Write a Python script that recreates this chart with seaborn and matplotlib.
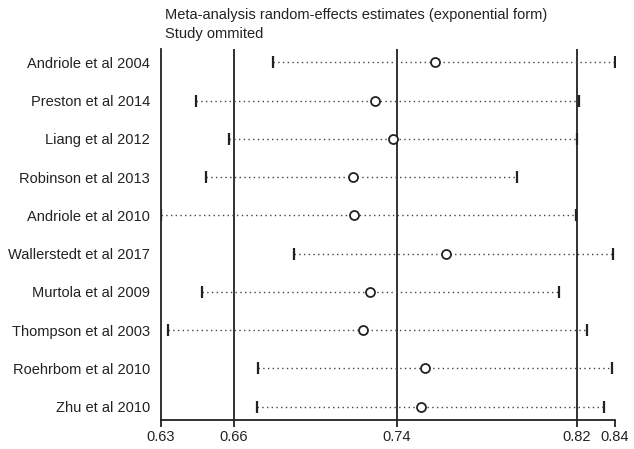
import matplotlib
matplotlib.use("Agg")
import matplotlib.pyplot as plt
import seaborn as sns
import pandas as pd

# Leave-one-out random-effects estimates (exponential form)
studies = [
    "Andriole et al 2004", "Preston et al 2014", "Liang et al 2012",
    "Robinson et al 2013", "Andriole et al 2010", "Wallerstedt et al 2017",
    "Murtola et al 2009", "Thompson et al 2003", "Roehrbom et al 2010",
    "Zhu et al 2010",
]
estimate = [0.7572, 0.7295, 0.7378, 0.7192, 0.7198, 0.7622, 0.7272, 0.7238, 0.7526, 0.7508]
lower_ci = [0.6823, 0.6466, 0.6620, 0.6512, 0.6305, 0.6920, 0.6493, 0.6339, 0.6755, 0.6749]
upper_ci = [0.8405, 0.8238, 0.8231, 0.7952, 0.8226, 0.8397, 0.8147, 0.8274, 0.8393, 0.8355]

# Pooled estimate and its confidence limits
pooled_lower = 0.6643
pooled_est = 0.7395
pooled_upper = 0.8228

axis_min = min(lower_ci)
axis_max = max(upper_ci)

df = pd.DataFrame({
    "study": studies,
    "pos": range(len(studies)),
    "est": estimate,
    "lo": lower_ci,
    "hi": upper_ci,
})

sns.set_theme(style="white")
plt.rcParams["font.family"] = ["Liberation Sans", "DejaVu Sans"]

W, H = 634, 449
fig = plt.figure(figsize=(W / 100, H / 100), dpi=100)
ax = fig.add_axes([161 / W, (H - 420) / H, (615 - 161) / W, (420 - 49) / H])

ink = "#222222"
fs = 10.5

# pooled reference lines
for v in (pooled_lower, pooled_est, pooled_upper):
    ax.axvline(v, color=ink, lw=1.3, zorder=1)

# dotted confidence intervals
ax.hlines(df["pos"], df["lo"], df["hi"], color="#444444", lw=1.0,
          linestyle=(0, (1, 2.4)), zorder=2)

# interval end marks
ax.plot(df["lo"], df["pos"], linestyle="none", marker="|", ms=9, mew=1.6, color=ink, zorder=3)
ax.plot(df["hi"], df["pos"], linestyle="none", marker="|", ms=9, mew=1.6, color=ink, zorder=3)

# point estimates
sns.scatterplot(data=df, x="est", y="pos", ax=ax, marker="o", s=42,
                facecolor="white", edgecolor=ink, linewidth=1.3, zorder=4, legend=False)

ax.set_xlim(axis_min, axis_max)
ax.set_ylim(len(studies) - 1 + 0.35, -0.35)

ticks = [axis_min, pooled_lower, pooled_est, pooled_upper, axis_max]
ax.set_xticks(ticks)
ax.set_xticklabels([f"{t:.2f}" for t in ticks])
ax.set_yticks(df["pos"])
ax.set_yticklabels(df["study"])
ax.set_xlabel("")
ax.set_ylabel("")

ax.tick_params(axis="x", length=5, width=1.3, color=ink, pad=2, labelsize=fs, labelcolor=ink,
               bottom=True)
ax.tick_params(axis="y", length=0, pad=8, labelsize=fs, labelcolor=ink)

for side in ("top", "right"):
    ax.spines[side].set_visible(False)
for side in ("left", "bottom"):
    ax.spines[side].set_color(ink)
    ax.spines[side].set_linewidth(1.3)

fig.text(165 / W, 1 - 19 / H, "Meta-analysis random-effects estimates (exponential form)",
         fontsize=fs, color=ink, va="baseline", ha="left")
fig.text(165 / W, 1 - 38 / H, "Study ommited",
         fontsize=fs, color=ink, va="baseline", ha="left")

fig.savefig("out.png", dpi=100, facecolor="white")
